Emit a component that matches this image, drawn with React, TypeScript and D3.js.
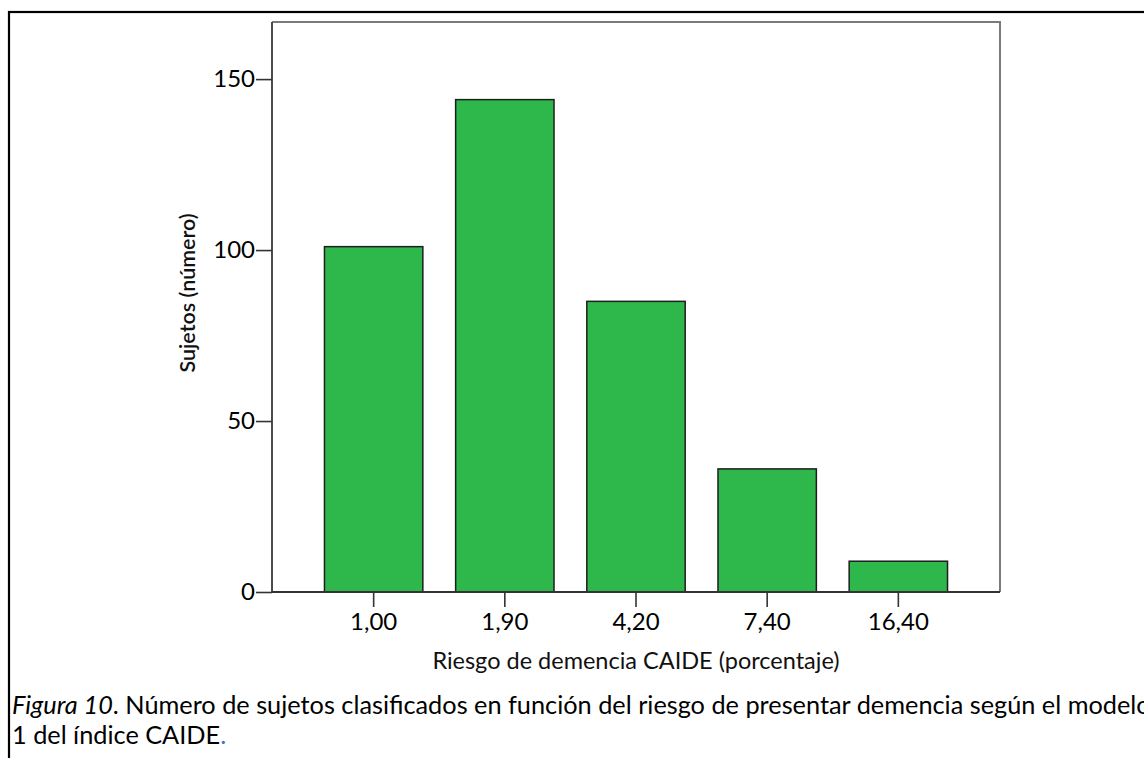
import React, { useEffect, useRef } from "react";
import * as d3 from "d3";

const categories: string[] = ["1,00", "1,90", "4,20", "7,40", "16,40"];
const counts: number[] = [101, 144, 85, 36, 9];
const yTicks: number[] = [0, 50, 100, 150];
const yMax = 166.7;
const xTitle = "Riesgo de demencia CAIDE (porcentaje)";
const yTitle = "Sujetos (número)";
const captionItalic = "Figura 10";
const captionRest1 = ". Número de sujetos clasificados en función del riesgo de presentar demencia según el modelo";
const captionLine2 = "1 del índice CAIDE";

const W = 1144;
const H = 758;
const plot = { left: 272, right: 1000, top: 22, bottom: 592 };
const FONT = "Lato, 'Open Sans', sans-serif";

export default function App() {
  const ref = useRef<SVGSVGElement>(null);

  useEffect(() => {
    const svg = d3.select(ref.current);
    svg.selectAll("*").remove();

    const x = d3
      .scaleBand<string>()
      .domain(categories)
      .range([plot.left, plot.right])
      .paddingInner(0.25)
      .paddingOuter(0.4);
    const y = d3.scaleLinear().domain([0, yMax]).range([plot.bottom, plot.top]);

    svg.append("rect").attr("width", W).attr("height", H).attr("fill", "#fff");

    // outer border
    svg
      .append("rect")
      .attr("x", 9)
      .attr("y", 12)
      .attr("width", W + 50)
      .attr("height", H + 50)
      .attr("fill", "none")
      .attr("stroke", "#000")
      .attr("stroke-width", 2.2);

    // bars
    svg
      .append("g")
      .selectAll("rect")
      .data(categories)
      .join("rect")
      .attr("x", (d) => x(d)!)
      .attr("y", (d, i) => y(counts[i]))
      .attr("width", x.bandwidth())
      .attr("height", (d, i) => y(0) - y(counts[i]))
      .attr("fill", "#2EB84B")
      .attr("stroke", "#1e1e1e")
      .attr("stroke-width", 1.5);

    // frame top/right
    svg
      .append("path")
      .attr("d", `M${plot.left},${plot.top}H${plot.right}V${plot.bottom}`)
      .attr("fill", "none")
      .attr("stroke", "#7a7a7a")
      .attr("stroke-width", 2);

    // y axis
    const yAxis = d3
      .axisLeft(y)
      .tickValues(yTicks)
      .tickSize(16)
      .tickPadding(1)
      .tickFormat((d) => String(d));
    const gy = svg.append("g").attr("transform", `translate(${plot.left},0)`).call(yAxis);
    gy.select(".domain").attr("d", `M0,${plot.top}V${plot.bottom}`).attr("stroke", "#4a4a4a").attr("stroke-width", 2);
    gy.selectAll(".tick line").attr("stroke", "#333").attr("stroke-width", 1.6);
    gy.selectAll(".tick text")
      .attr("font-family", FONT)
      .attr("font-size", 24)
      .attr("fill", "#000");

    // x axis
    const xAxis = d3.axisBottom(x).tickSize(15).tickPadding(6);
    const gx = svg.append("g").attr("transform", `translate(0,${plot.bottom})`).call(xAxis);
    gx.select(".domain").attr("d", `M${plot.left},0H${plot.right}`).attr("stroke", "#333").attr("stroke-width", 2);
    gx.selectAll(".tick line").attr("stroke", "#333").attr("stroke-width", 1.6);
    gx.selectAll(".tick text")
      .attr("font-family", FONT)
      .attr("font-size", 24)
      .attr("fill", "#000");

    // axis titles
    svg
      .append("text")
      .attr("x", (plot.left + plot.right) / 2)
      .attr("y", 669)
      .attr("text-anchor", "middle")
      .attr("font-family", FONT)
      .attr("font-size", 23.5)
      .attr("fill", "#111")
      .text(xTitle);

    svg
      .append("text")
      .attr("transform", `translate(195,293) rotate(-90)`)
      .attr("text-anchor", "middle")
      .attr("font-family", FONT)
      .attr("font-size", 21.5)
      .attr("font-weight", 600)
      .attr("fill", "#111")
      .text(yTitle);

    // caption
    const c1 = svg
      .append("text")
      .attr("x", 12)
      .attr("y", 714)
      .attr("font-family", FONT)
      .attr("font-size", 25.3)
      .attr("fill", "#000");
    c1.append("tspan").attr("font-style", "italic").text(captionItalic);
    c1.append("tspan").text(captionRest1);

    const c2 = svg
      .append("text")
      .attr("x", 12)
      .attr("y", 744)
      .attr("font-family", FONT)
      .attr("font-size", 25.3)
      .attr("fill", "#000");
    c2.append("tspan").text(captionLine2);
    c2.append("tspan").attr("fill", "#4472C4").text(".");
  }, []);

  return (
    <svg
      ref={ref}
      width={W}
      height={H}
      style={{ position: "absolute", left: 0, top: 0, display: "block" }}
    />
  );
}
